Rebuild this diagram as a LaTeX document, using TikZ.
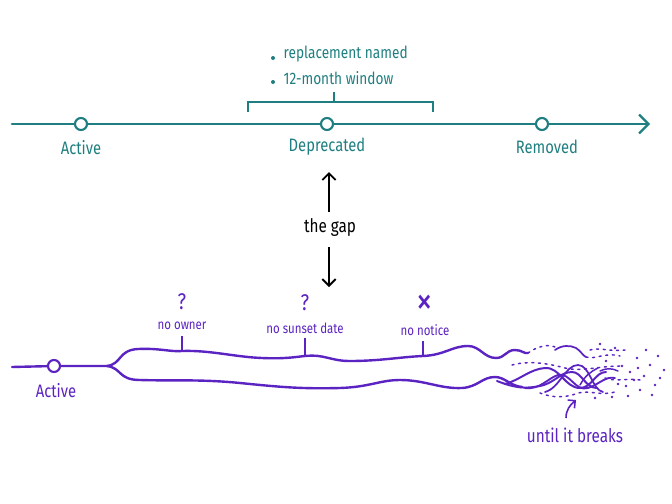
\documentclass[tikz,border=0pt]{standalone}
\usepackage{fontspec}
\setmainfont[FakeStretch=0.82]{Fira Sans}
\usetikzlibrary{arrows.meta}
\definecolor{tealc}{HTML}{1F7F80}
\definecolor{purp}{HTML}{5B23C2}
\begin{document}
\begin{tikzpicture}[x=0.75pt,y=-0.75pt,
  tline/.style={draw=tealc,line width=2.1pt,line cap=round,line join=round},
  pline/.style={draw=purp,line width=1.8pt,line cap=round,line join=round},
  pthin/.style={draw=purp,line width=1.1pt,line cap=round},
  pdots/.style={draw=purp,line width=1.1pt,dash pattern=on 1.5pt off 3.5pt,line cap=round},
  tdot/.style={circle,draw=tealc,fill=white,line width=1.6pt,minimum size=9pt,inner sep=0pt},
  pdot/.style={circle,draw=purp,fill=white,line width=1.6pt,minimum size=9pt,inner sep=0pt},
  tlab/.style={text=tealc,font=\fontsize{13.5}{15}\selectfont},
  plab/.style={text=purp,font=\fontsize{10.5}{12}\selectfont},
  pmark/.style={text=purp,font=\fontsize{17}{19}\selectfont},
  barb/.style={-{Straight Barb[length=5pt,width=10pt,line width=1.4pt]}}
]
\useasboundingbox (0,0) rectangle (672,504);
\fill[white] (0,0) rectangle (672,504);

% ---------- top timeline ----------
\coordinate (tstart) at (12,124);
\coordinate (tend) at (650,124);
\draw[tline,-{Straight Barb[length=7pt,width=14pt,line width=1.7pt]}] (tstart) -- (tend);
\node[tdot] (ta) at (81,124) {};
\node[tdot] (td) at (327,124) {};
\node[tdot] (tr) at (542,124) {};
\node[tlab] (tal) at (81,148) {Active};
\node[tlab] (tdl) at (327,147) {Deprecated};
\node[tlab] (trl) at (547,147) {Removed};

% bracket
\coordinate (b1) at (248,112);
\coordinate (b2) at (248,102);
\coordinate (b3) at (433,102);
\coordinate (b4) at (433,112);
\coordinate (bm) at (334,102);
\coordinate (bt) at (334,92);
\draw[draw=tealc,line width=1.4pt] (b1) -- (b2) -- (b3) -- (b4);
\draw[draw=tealc,line width=1.4pt] (bm) -- (bt);
\node[text=tealc,font=\fontsize{12.5}{14}\selectfont,anchor=west] (bl1) at (279,54) {replacement named};
\node[text=tealc,font=\fontsize{12.5}{14}\selectfont,anchor=west] (bl2) at (279,78) {12-month window};
\fill[tealc] (273,58) circle (1.5pt);
\fill[tealc] (273,82) circle (1.5pt);

% ---------- the gap ----------
\node[font=\fontsize{14}{16}\selectfont] (gap) at (330,228) {the gap};
\coordinate (gtop) at (329,172);
\coordinate (gbot) at (329,287);
\draw[line width=1.2pt,barb] (329,212) -- (gtop);
\draw[line width=1.2pt,barb] (329,247) -- (gbot);

% ---------- bottom ----------
\coordinate (bs) at (12,367);
\coordinate (split) at (107,366);
\node[pdot] (pa) at (54,366) {};
\draw[pline] (bs) -- (pa) -- (split);
\node[text=purp,font=\fontsize{13.5}{15}\selectfont] (pal) at (56,391) {Active};

% upper strand
\draw[pline] (split) .. controls (122,364) and (118,350) .. (138,349)
  .. controls (160,348) and (170,352) .. (182,351)
  .. controls (210,350) and (235,357) .. (262,358)
  .. controls (285,359) and (295,357) .. (305,356)
  .. controls (325,354) and (330,361) .. (350,361)
  .. controls (380,361) and (400,357) .. (423,356)
  .. controls (445,355) and (452,346) .. (468,346)
  .. controls (480,346) and (484,358) .. (496,358)
  .. controls (505,358) and (506,350) .. (515,350)
  .. controls (522,350) and (524,354) .. (528,353);
% lower strand
\draw[pline] (split) .. controls (122,368) and (118,380) .. (140,380)
  .. controls (170,381) and (200,379) .. (240,383)
  .. controls (280,387) and (300,389) .. (340,388)
  .. controls (370,387) and (380,380) .. (400,380)
  .. controls (425,380) and (440,389) .. (462,388)
  .. controls (478,387) and (482,377) .. (495,377)
  .. controls (505,377) and (510,386) .. (522,387);

% tangled end - solid bits
\draw[pthin,line width=1.5pt] (497,381) .. controls (515,388) and (525,389) .. (540,386)
  .. controls (555,383) and (560,372) .. (572,372) .. controls (582,372) and (585,388) .. (597,388);
\draw[pthin,line width=1.5pt] (505,384) .. controls (520,380) and (530,369) .. (545,368)
  .. controls (560,367) and (565,388) .. (580,388) .. controls (592,388) and (595,372) .. (606,372);
\draw[pthin,line width=1.4pt] (525,388) .. controls (540,390) and (548,378) .. (558,375)
  .. controls (570,372) and (575,392) .. (588,388) .. controls (600,384) and (605,376) .. (615,378);
\draw[pthin,line width=1.3pt] (545,392) .. controls (560,388) and (565,365) .. (578,365)
  .. controls (590,365) and (592,390) .. (603,392);
\draw[pthin,line width=1.3pt] (555,350) .. controls (562,345) and (570,345) .. (576,348)
  .. controls (581,351) and (583,356) .. (586,357);
\draw[pthin] (600,371) .. controls (606,368) and (612,368) .. (618,371);
\draw[pthin] (580,385) .. controls (585,376) and (590,372) .. (598,368);

% tangled end - dotted bits
\draw[pdots] (512,365) .. controls (530,360) and (550,364) .. (565,368) .. controls (580,372) and (600,366) .. (620,366);
\draw[pdots] (528,353) .. controls (538,346) and (548,344) .. (555,347);
\draw[pdots] (586,357) .. controls (595,360) and (605,352) .. (620,356);
\draw[pdots] (540,393) .. controls (552,398) and (566,398) .. (578,393) .. controls (590,390) and (600,396) .. (615,392);
\draw[pdots] (605,378) .. controls (615,382) and (625,378) .. (640,380);
\draw[pdots] (590,350) .. controls (600,347) and (610,352) .. (625,350);
\foreach \p in {(622,366),(630,372),(637,358),(644,376),(650,365),(626,386),(640,390),(655,385),(612,397),(628,396),(660,378),(646,350),(634,380),(618,384),(652,395),(664,370),(600,344),(615,348),(658,356),(595,398),(606,361),(638,368)}
  \fill[purp] \p circle (1.1pt);

% labels and ticks
\node[pmark] (q1) at (182,302) {?};
\node[plab] (l1) at (182,326) {no owner};
\coordinate (t1) at (182,351);
\draw[purp,line width=1.1pt] (182,336) -- (t1);
\node[pmark] (q2) at (305,303) {?};
\node[plab] (l2) at (305,328) {no sunset date};
\coordinate (t2) at (305,356);
\draw[purp,line width=1.1pt] (305,338) -- (t2);
\node[text=purp,font=\fontsize{30}{30}\selectfont,inner sep=0pt] (x3) at (425,305) {×};
\node[plab] (l3) at (425,330) {no notice};
\coordinate (t3) at (423,356);
\draw[purp,line width=1.1pt] (423,341) -- (t3);

% until it breaks
\node[text=purp,font=\fontsize{14}{16}\selectfont] (ub) at (575,435) {until it breaks};
\coordinate (ua) at (576,400);
\draw[purp,line width=1.2pt,-{Straight Barb[length=4pt,width=8pt,line width=1.2pt]}] (566,418) .. controls (566,410) and (570,405) .. (ua);
\end{tikzpicture}
\end{document}
